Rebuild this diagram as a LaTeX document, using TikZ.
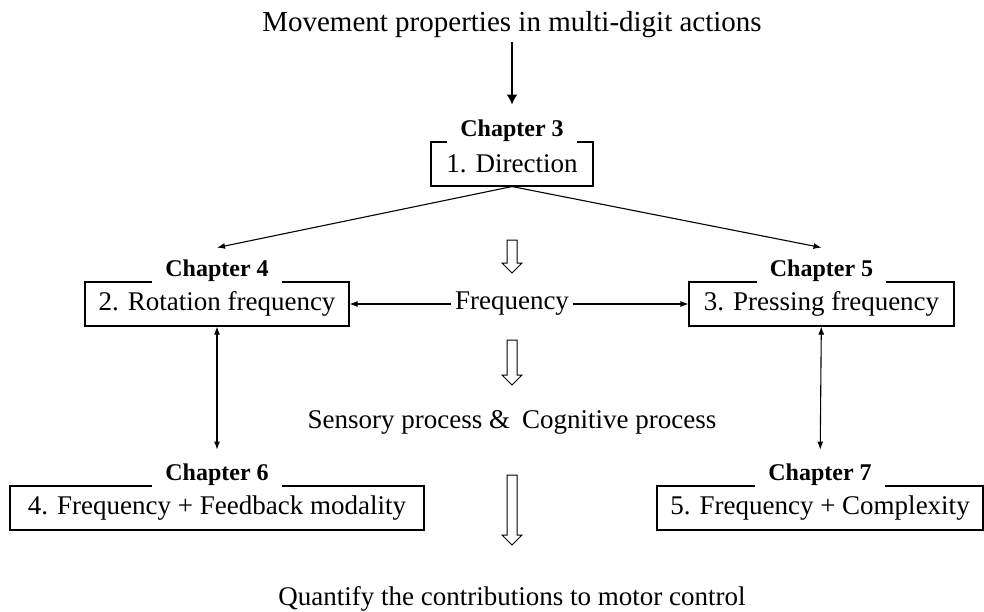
\documentclass[tikz,border=0pt]{standalone}
\usepackage{fontspec}
\setmainfont{Liberation Serif}
\usetikzlibrary{arrows.meta,positioning}
\tikzset{box/.style={draw,line width=1.1pt,minimum height=44pt,inner sep=0pt,font=\fontsize{27}{30}\selectfont},
chap/.style={fill=white,inner xsep=13pt,inner ysep=2pt,anchor=base,font=\fontsize{24}{28}\selectfont\bfseries},
txt/.style={font=\fontsize{27}{30}\selectfont},
arr/.style={-{Latex[length=8pt,width=6pt]},line width=1.1pt},
darr/.style={{Latex[length=8pt,width=6pt]}-{Latex[length=8pt,width=6pt]},line width=1.1pt},
bigarr/.style={-{Latex[length=10pt,width=11pt]},line width=2.6pt},
hollow/.style={draw,line width=1pt,line join=miter}}

\begin{document}
\begin{tikzpicture}[x=1pt,y=-1pt]
\useasboundingbox (0,0) rectangle (984,612);
\node[txt,anchor=base,font=\fontsize{29}{32}\selectfont] (title) at (512,32) {Movement properties in multi-digit actions};
% chapter boxes
\node[box,minimum width=162pt] (dir) at (512,164) {1. Direction};
\node[chap] (ch3) at ([yshift=5pt]dir.north) {Chapter 3};
\node[box,minimum width=264pt] (rot) at (217,304) {2. Rotation frequency};
\node[chap] (ch4) at ([yshift=5pt]rot.north) {Chapter 4};
\node[box,minimum width=265pt] (press) at (821.5,304) {3. Pressing frequency};
\node[chap] (ch5) at ([yshift=5pt]press.north) {Chapter 5};
\node[box,minimum width=414pt] (feed) at (217,508) {4. Frequency + Feedback modality};
\node[chap] (ch6) at ([yshift=5pt]feed.north) {Chapter 6};
\node[box,minimum width=326pt] (comp) at (820,508) {5. Frequency + Complexity};
\node[chap] (ch7) at ([yshift=5pt]comp.north) {Chapter 7};
% middle column
\node[txt] (freq) at (512,304) {Frequency};
\node[txt] (sens) at (512,422) {Sensory process \&\hspace{0.45em}Cognitive process};
\node[txt,anchor=base] (goal) at (512,605) {Quantify the contributions to motor control};
% hollow arrows
\draw[hollow] (507,240) -- ++(10,0) -- ++(0,23) -- ++(5,0) -- ++(-10,10) -- ++(-10,-10) -- ++(5,0) -- cycle;
\draw[hollow] (507,340) -- ++(10,0) -- ++(0,35) -- ++(5,0) -- ++(-10,10) -- ++(-10,-10) -- ++(5,0) -- cycle;
\draw[hollow] (507,475) -- ++(10,0) -- ++(0,60) -- ++(5,0) -- ++(-10,10) -- ++(-10,-10) -- ++(5,0) -- cycle;
% connectors
\draw[bigarr,shorten >=13pt] (title) -- (ch3);
\draw[arr] (dir.south) -- ([yshift=10pt]ch4.north); \draw[arr] (dir.south) -- ([yshift=10pt]ch5.north);
\draw[arr] (freq) -- (rot); \draw[arr] (freq) -- (press);
\draw[darr,shorten >=12pt] (rot) -- (ch6); \draw[darr,shorten >=12pt] (press) -- (ch7);
\end{tikzpicture}
\end{document}
